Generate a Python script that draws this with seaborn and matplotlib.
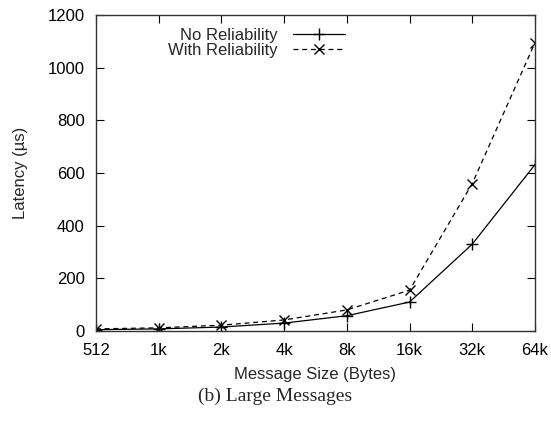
import matplotlib
matplotlib.use('Agg')
import matplotlib.pyplot as plt
import seaborn as sns
import pandas as pd

# message sizes and latencies (us)
sizes = ['512', '1k', '2k', '4k', '8k', '16k', '32k', '64k']
no_rel = [5, 8, 15, 30, 58, 110, 330, 632]
with_rel = [8, 12, 22, 42, 80, 155, 560, 1095]

df = pd.DataFrame({
    'pos': range(len(sizes)),
    'no_rel': no_rel,
    'with_rel': with_rel,
})

sns.set_style('ticks')
plt.rcParams['font.family'] = ['Liberation Sans', 'DejaVu Sans']

fig = plt.figure(figsize=(5.51, 4.23), dpi=100)
ax = fig.add_axes([0.174, 0.2175, 0.797, 0.747])

sns.lineplot(data=df, x='pos', y='no_rel', color='black', linewidth=0.9,
             marker='+', markersize=9, markeredgewidth=1, markeredgecolor='black',
             label='No Reliability', ax=ax)
sns.lineplot(data=df, x='pos', y='with_rel', color='black', linewidth=0.9,
             linestyle=(0, (4, 3)), marker='x', markersize=7, markeredgewidth=1,
             markeredgecolor='black', label='With Reliability', ax=ax)

# gnuplot-style legend: label then sample
leg = ax.legend(loc='upper left', bbox_to_anchor=(0.15, 0.98), frameon=False,
                markerfirst=False, fontsize=12, handlelength=3.1,
                labelspacing=0.0, handletextpad=0.9, borderaxespad=0)

ax.set_xlim(0, len(sizes) - 1)
ax.set_ylim(0, 1200)
ax.set_xticks(range(len(sizes)))
ax.set_xticklabels(sizes)
ax.set_yticks(range(0, 1201, 200))
ax.tick_params(direction='in', top=True, right=True, length=6, width=0.8,
               labelsize=12, colors='black')
ax.tick_params(axis='x', pad=9)
ax.tick_params(axis='y', pad=8)
for s in ax.spines.values():
    s.set_linewidth(1.0)
    s.set_color('#333333')

ax.set_xlabel('Message Size (Bytes)', fontsize=12, labelpad=6)
ax.set_ylabel('Latency (\u00b5s)', fontsize=12, labelpad=14)

fig.text(0.5, 0.062, '(b) Large Messages', ha='center', va='center',
         fontsize=14, family='Liberation Serif')

fig.savefig('out.png', dpi=100)
